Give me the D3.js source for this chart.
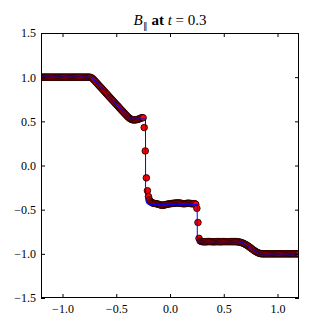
<!DOCTYPE html>
<html><head><meta charset="utf-8">
<script src="https://cdn.jsdelivr.net/npm/d3@7"></script>
<style>
html,body{margin:0;padding:0;background:#fff;}
svg{display:block;}
</style></head>
<body>
<script>
// ---- data ----
const xTicks = [-1.0, -0.5, 0.0, 0.5, 1.0];
const yTicks = [-1.5, -1.0, -0.5, 0.0, 0.5, 1.0, 1.5];
const xDomain = [-1.2, 1.2];
const yDomain = [-1.5, 1.5];

const simX = [
-1.20,-1.19,-1.18,-1.17,-1.16,-1.15,-1.14,-1.13,-1.12,-1.11,
-1.10,-1.09,-1.08,-1.07,-1.06,-1.05,-1.04,-1.03,-1.02,-1.01,
-1.00,-0.99,-0.98,-0.97,-0.96,-0.95,-0.94,-0.93,-0.92,-0.91,
-0.90,-0.89,-0.88,-0.87,-0.86,-0.85,-0.84,-0.83,-0.82,-0.81,
-0.80,-0.79,-0.78,-0.77,-0.76,-0.75,-0.74,-0.73,-0.72,-0.71,
-0.70,-0.69,-0.68,-0.67,-0.66,-0.65,-0.64,-0.63,-0.62,-0.61,
-0.60,-0.59,-0.58,-0.57,-0.56,-0.55,-0.54,-0.53,-0.52,-0.51,
-0.50,-0.49,-0.48,-0.47,-0.46,-0.45,-0.44,-0.43,-0.42,-0.41,
-0.40,-0.39,-0.38,-0.37,-0.36,-0.35,-0.34,-0.33,-0.32,-0.31,
-0.30,-0.29,-0.28,-0.27,-0.26,-0.25,-0.24,-0.23,-0.22,-0.21,
-0.20,-0.19,-0.18,-0.17,-0.16,-0.15,-0.14,-0.13,-0.12,-0.11,
-0.10,-0.09,-0.08,-0.07,-0.06,-0.05,-0.04,-0.03,-0.02,-0.01,
 0.00, 0.01, 0.02, 0.03, 0.04, 0.05, 0.06, 0.07, 0.08, 0.09,
 0.10, 0.11, 0.12, 0.13, 0.14, 0.15, 0.16, 0.17, 0.18, 0.19,
 0.20, 0.21, 0.22, 0.23, 0.24, 0.25, 0.26, 0.27, 0.28, 0.29,
 0.30, 0.31, 0.32, 0.33, 0.34, 0.35, 0.36, 0.37, 0.38, 0.39,
 0.40, 0.41, 0.42, 0.43, 0.44, 0.45, 0.46, 0.47, 0.48, 0.49,
 0.50, 0.51, 0.52, 0.53, 0.54, 0.55, 0.56, 0.57, 0.58, 0.59,
 0.60, 0.61, 0.62, 0.63, 0.64, 0.65, 0.66, 0.67, 0.68, 0.69,
 0.70, 0.71, 0.72, 0.73, 0.74, 0.75, 0.76, 0.77, 0.78, 0.79,
 0.80, 0.81, 0.82, 0.83, 0.84, 0.85, 0.86, 0.87, 0.88, 0.89,
 0.90, 0.91, 0.92, 0.93, 0.94, 0.95, 0.96, 0.97, 0.98, 0.99,
 1.00, 1.01, 1.02, 1.03, 1.04, 1.05, 1.06, 1.07, 1.08, 1.09,
 1.10, 1.11, 1.12, 1.13, 1.14, 1.15, 1.16, 1.17, 1.18, 1.19,
 1.20
];
const simY = [
1,1,1,1,1,1,1,1,1,1,
1,1,1,1,1,1,1,1,1,1,
1,1,1,1,1,1,1,1,1,1,
1,1,1,1,1,1,1,1,1,1,
1,1,1,1,1,1,0.998,0.993,0.984,0.972,
0.959,0.946,0.932,0.919,0.905,0.892,0.879,0.865,0.852,0.839,
0.825,0.812,0.799,0.785,0.772,0.759,0.745,0.732,0.719,0.705,
0.692,0.679,0.666,0.652,0.639,0.626,0.613,0.600,0.587,0.574,
0.561,0.549,0.538,0.529,0.522,0.518,0.516,0.516,0.517,0.519,
0.522,0.526,0.531,0.537,0.542,0.540,0.430,0.165,-0.140,-0.285,
-0.352,-0.390,-0.410,-0.420,-0.425,-0.428,-0.430,-0.432,-0.435,-0.438,
-0.442,-0.446,-0.449,-0.450,-0.449,-0.446,-0.443,-0.440,-0.437,-0.435,
-0.433,-0.431,-0.430,-0.428,-0.427,-0.426,-0.425,-0.424,-0.424,-0.425,
-0.427,-0.430,-0.432,-0.433,-0.432,-0.430,-0.428,-0.427,-0.428,-0.430,
-0.432,-0.433,-0.433,-0.432,-0.440,-0.485,-0.645,-0.825,-0.853,-0.860,
-0.862,-0.863,-0.864,-0.864,-0.863,-0.862,-0.861,-0.861,-0.862,-0.863,
-0.864,-0.864,-0.863,-0.862,-0.862,-0.862,-0.863,-0.863,-0.863,-0.862,
-0.862,-0.862,-0.862,-0.862,-0.862,-0.862,-0.862,-0.862,-0.862,-0.862,
-0.862,-0.862,-0.863,-0.864,-0.866,-0.868,-0.871,-0.875,-0.880,-0.886,
-0.892,-0.899,-0.907,-0.915,-0.924,-0.933,-0.942,-0.951,-0.960,-0.968,
-0.976,-0.983,-0.989,-0.994,-0.997,-0.999,-1,-1,-1,-1,
-1,-1,-1,-1,-1,-1,-1,-1,-1,-1,
-1,-1,-1,-1,-1,-1,-1,-1,-1,-1,
-1,-1,-1,-1,-1,-1,-1,-1,-1,-1,
-1
];

// reference solution (blue line)
const refX = [-1.2,-0.745,-0.735,-0.725,-0.71,-0.38,-0.365,-0.35,-0.228,-0.227,-0.222,-0.215,-0.20,0.253,0.254,0.258,0.27,0.29,0.62,0.66,0.68,0.80,0.83,0.85,1.2];
const refY = [1.0,1.0,0.997,0.99,0.973,0.537,0.527,0.524,0.528,-0.36,-0.41,-0.43,-0.44,-0.44,-0.835,-0.852,-0.858,-0.862,-0.862,-0.869,-0.878,-0.976,-0.994,-1.0,-1.0];

// ---- layout ----
const W = 332, H = 332;
const L = 41, R = 299, T = 33, B = 298;
const FONT = "'Liberation Serif', 'Times New Roman', serif";

const svg = d3.select("body").append("svg").attr("width", W).attr("height", H);
const x = d3.scaleLinear().domain(xDomain).range([L, R]);
const y = d3.scaleLinear().domain(yDomain).range([B, T]);

svg.append("defs").append("clipPath").attr("id","clip")
  .append("rect").attr("x",L).attr("y",T).attr("width",R-L).attr("height",B-T);

const plot = svg.append("g").attr("clip-path","url(#clip)");
const pts = simX.map((d,i)=>[d, simY[i]]);
plot.selectAll("circle").data(pts).enter().append("circle")
  .attr("cx", d=>x(d[0])).attr("cy", d=>y(d[1])).attr("r", 3.3)
  .attr("fill", "#ff0000").attr("stroke", "#000").attr("stroke-width", 0.8);

const ref = refX.map((d,i)=>[d, refY[i]]);
plot.append("path").datum(ref)
  .attr("d", d3.line().x(d=>x(d[0])).y(d=>y(d[1])))
  .attr("fill","none").attr("stroke","#0000ff").attr("stroke-width",1);

// axes
const fmt = d3.format(".1f");
const styleAxis = g => {
  g.attr("font-family", null).attr("font-size", null);
  g.select(".domain").remove();
  g.selectAll("line").attr("stroke","#000").attr("stroke-width",1);
  g.selectAll("text").attr("fill","#000")
   .style("font-family", FONT).style("font-size","12px");
};
svg.append("g").attr("transform",`translate(0,${B})`)
  .call(d3.axisBottom(x).tickValues(xTicks).tickFormat(fmt).tickSizeInner(-4).tickSizeOuter(0).tickPadding(6))
  .call(styleAxis);
svg.append("g").attr("transform",`translate(0,${T})`)
  .call(d3.axisTop(x).tickValues(xTicks).tickFormat("").tickSizeInner(-4).tickSizeOuter(0))
  .call(styleAxis);
svg.append("g").attr("transform",`translate(${L},0)`)
  .call(d3.axisLeft(y).tickValues(yTicks).tickFormat(fmt).tickSizeInner(-4).tickSizeOuter(0).tickPadding(5))
  .call(styleAxis);
svg.append("g").attr("transform",`translate(${R},0)`)
  .call(d3.axisRight(y).tickValues(yTicks).tickFormat("").tickSizeInner(-4).tickSizeOuter(0))
  .call(styleAxis);

svg.append("rect").attr("x",L+0.5).attr("y",T+0.5).attr("width",R-L-1).attr("height",B-T-1)
  .attr("fill","none").attr("stroke","#000").attr("stroke-width",1);

// title
const title = svg.append("text").attr("x",(L+R)/2).attr("y",25)
  .attr("text-anchor","middle").attr("fill","#000")
  .style("font-family", FONT).style("font-size","15px");
title.append("tspan").style("font-style","italic").text("B");
title.append("tspan").style("font-size","9px").attr("dy",4).text("∥");
title.append("tspan").attr("dy",-4).style("font-weight","bold").text(" at ");
title.append("tspan").style("font-style","italic").text("t");
title.append("tspan").text(" = 0.3");
</script>
</body></html>
